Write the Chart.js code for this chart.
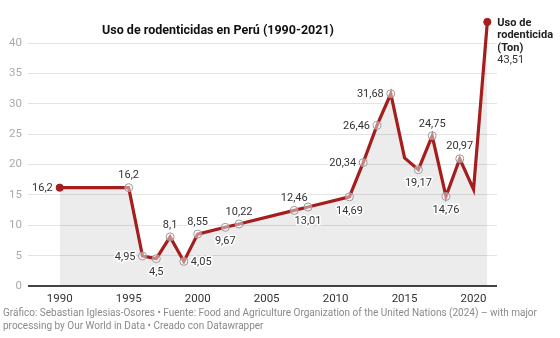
<!DOCTYPE html>
<html>
<head>
<meta charset="utf-8">
<script src="https://cdn.jsdelivr.net/npm/chart.js@4/dist/chart.umd.min.js"></script>
<style>
  html, body { margin: 0; padding: 0; background: #fff; }
  canvas { display: block; }
</style>
</head>
<body>
<canvas id="grafico" width="560" height="338"></canvas>
<script>
// datos: uso de rodenticidas en Perú (toneladas)
var anios = [1990, 1995, 1996, 1997, 1998, 1999, 2000, 2002, 2003, 2007, 2008,
             2011, 2012, 2013, 2014, 2015, 2016, 2017, 2018, 2019, 2020, 2021];
var usoTon = [16.2, 16.2, 4.95, 4.5, 8.1, 4.05, 8.55, 9.67, 10.22, 12.46, 13.01,
              14.69, 20.34, 26.46, 31.68, 21.1, 19.17, 24.75, 14.76, 20.97, 15.9, 43.51];
var ticksX = [1990, 1995, 2000, 2005, 2010, 2015, 2020];
var ticksY = [0, 5, 10, 15, 20, 25, 30, 35, 40];

var titulo = 'Uso de rodenticidas en Perú (1990-2021)';
var nombreSerie = ['Uso de', 'rodenticida', '(Ton)'];
var pie = [
    'Gráfico: Sebastian Iglesias-Osores • Fuente: Food and Agriculture Organization of the United Nations (2024) – with major',
    'processing by Our World in Data • Creado con Datawrapper'
];

// donde va cada etiqueta respecto al punto ('' = sin etiqueta, 'fin' = último punto)
var posEtiqueta = ['izq', 'arriba', 'izq', 'abajo', 'arriba', 'der', 'arriba', 'abajo', 'arriba', 'arriba', 'abajo',
                   'abajo', 'izq', 'izq', 'izq', '', 'abajo', 'arriba', 'abajo', 'arriba', '', 'fin'];

var rojo = '#a51d1d';
var fuente = 'Roboto, "Noto Sans", sans-serif';

function formatoComa(v) {      // 16.2 -> "16,2"
    return String(v).replace('.', ',');
}

var puntos = [];
for (var i = 0; i < anios.length; i++) {
    puntos.push({ x: anios[i], y: usoTon[i] });
}

// radios y colores de los marcadores
var radios = posEtiqueta.map(function (p, i) {
    if (i === 0 || p === 'fin') return 3.6;
    return p === '' ? 0 : 4;
});
var fondoPuntos = posEtiqueta.map(function (p, i) {
    return (i === 0 || p === 'fin') ? rojo : 'rgba(255,255,255,0.45)';
});
var bordePuntos = posEtiqueta.map(function (p, i) {
    return (i === 0 || p === 'fin') ? rojo : '#9a9a9a';
});

function textoConHalo(ctx, txt, x, y) {
    ctx.lineWidth = 3;
    ctx.strokeStyle = '#fff';
    ctx.strokeText(txt, x, y);
    ctx.fillText(txt, x, y);
}

var pluginEtiquetas = {
    id: 'etiquetas',
    afterDatasetsDraw: function (chart) {
        var ctx = chart.ctx;
        var meta = chart.getDatasetMeta(0);
        ctx.save();
        ctx.font = '11px ' + fuente;
        ctx.fillStyle = '#333';
        ctx.lineJoin = 'round';
        for (var i = 0; i < meta.data.length; i++) {
            var p = meta.data[i];
            var pos = posEtiqueta[i];
            var txt = formatoComa(usoTon[i]);
            if (pos === 'izq') {
                ctx.textAlign = 'right'; ctx.textBaseline = 'middle';
                textoConHalo(ctx, txt, p.x - 7, p.y + 1);
            } else if (pos === 'der') {
                ctx.textAlign = 'left'; ctx.textBaseline = 'middle';
                textoConHalo(ctx, txt, p.x + 7, p.y + 1);
            } else if (pos === 'arriba') {
                ctx.textAlign = 'center'; ctx.textBaseline = 'middle';
                textoConHalo(ctx, txt, p.x, p.y - 12);
            } else if (pos === 'abajo') {
                ctx.textAlign = 'center'; ctx.textBaseline = 'middle';
                textoConHalo(ctx, txt, p.x, p.y + 14);
            } else if (pos === 'fin') {
                ctx.textAlign = 'left'; ctx.textBaseline = 'middle';
                ctx.font = 'bold 11px ' + fuente;
                ctx.fillStyle = '#222';
                for (var k = 0; k < nombreSerie.length; k++) {
                    ctx.fillText(nombreSerie[k], p.x + 10, p.y + 1 + k * 12.5);
                }
                ctx.font = '11px ' + fuente;
                ctx.fillStyle = '#333';
                ctx.fillText(txt, p.x + 10, p.y + 1 + nombreSerie.length * 12.5);
            }
        }
        ctx.restore();
    },
    afterDraw: function (chart) {
        var ctx = chart.ctx;
        ctx.save();
        // titulo encima de la línea del 40
        ctx.font = 'bold 12.5px ' + fuente;
        var w = ctx.measureText(titulo).width;
        var cx = 218;
        ctx.fillStyle = '#fff';
        ctx.fillRect(cx - w / 2 - 4, 22, w + 8, 18);
        ctx.fillStyle = '#111';
        ctx.textAlign = 'center';
        ctx.textBaseline = 'middle';
        ctx.fillText(titulo, cx, 31);
        // pie del grafico
        ctx.font = '10px ' + fuente;
        ctx.fillStyle = '#8a8a8a';
        ctx.textAlign = 'left';
        ctx.fillText(pie[0], 3, 313, 536);
        ctx.fillText(pie[1], 3, 326);
        ctx.restore();
    }
};

var grafico = new Chart(document.getElementById('grafico'), {
    type: 'line',
    data: {
        datasets: [{
            data: puntos,
            borderColor: rojo,
            borderWidth: 3.2,
            backgroundColor: 'rgba(0,0,0,0.075)',
            fill: 'origin',
            tension: 0,
            pointRadius: radios,
            pointBackgroundColor: fondoPuntos,
            pointBorderColor: bordePuntos,
            pointBorderWidth: 1
        }]
    },
    options: {
        responsive: false,
        devicePixelRatio: 1,
        animation: false,
        layout: { padding: { left: 0, right: 63, top: 6, bottom: 0 } },
        plugins: {
            legend: { display: false },
            tooltip: { enabled: false }
        },
        scales: {
            x: {
                type: 'linear',
                min: 1987.7,
                max: 2021.7,
                afterBuildTicks: function (s) {
                    s.ticks = ticksX.map(function (v) { return { value: v }; });
                },
                afterFit: function (s) { s.height = 52; },
                grid: { display: false, drawTicks: false },
                border: { display: false },
                ticks: {
                    padding: 6,
                    maxRotation: 0,
                    color: '#333',
                    font: { family: fuente, size: 11.5 },
                    callback: function (v) { return String(v); }
                }
            },
            y: {
                min: 0,
                max: 45,
                afterBuildTicks: function (s) {
                    s.ticks = ticksY.map(function (v) { return { value: v }; });
                },
                afterFit: function (s) { s.width = 28; },
                grid: {
                    drawTicks: false,
                    color: function (c) { return c.tick && c.tick.value === 0 ? '#444' : '#e4e4e4'; },
                    lineWidth: function (c) { return c.tick && c.tick.value === 0 ? 2 : 1; }
                },
                border: { display: false },
                ticks: {
                    padding: 6,
                    color: '#aaa',
                    font: { family: fuente, size: 11.5 }
                }
            }
        }
    },
    plugins: [pluginEtiquetas]
});
</script>
</body>
</html>
